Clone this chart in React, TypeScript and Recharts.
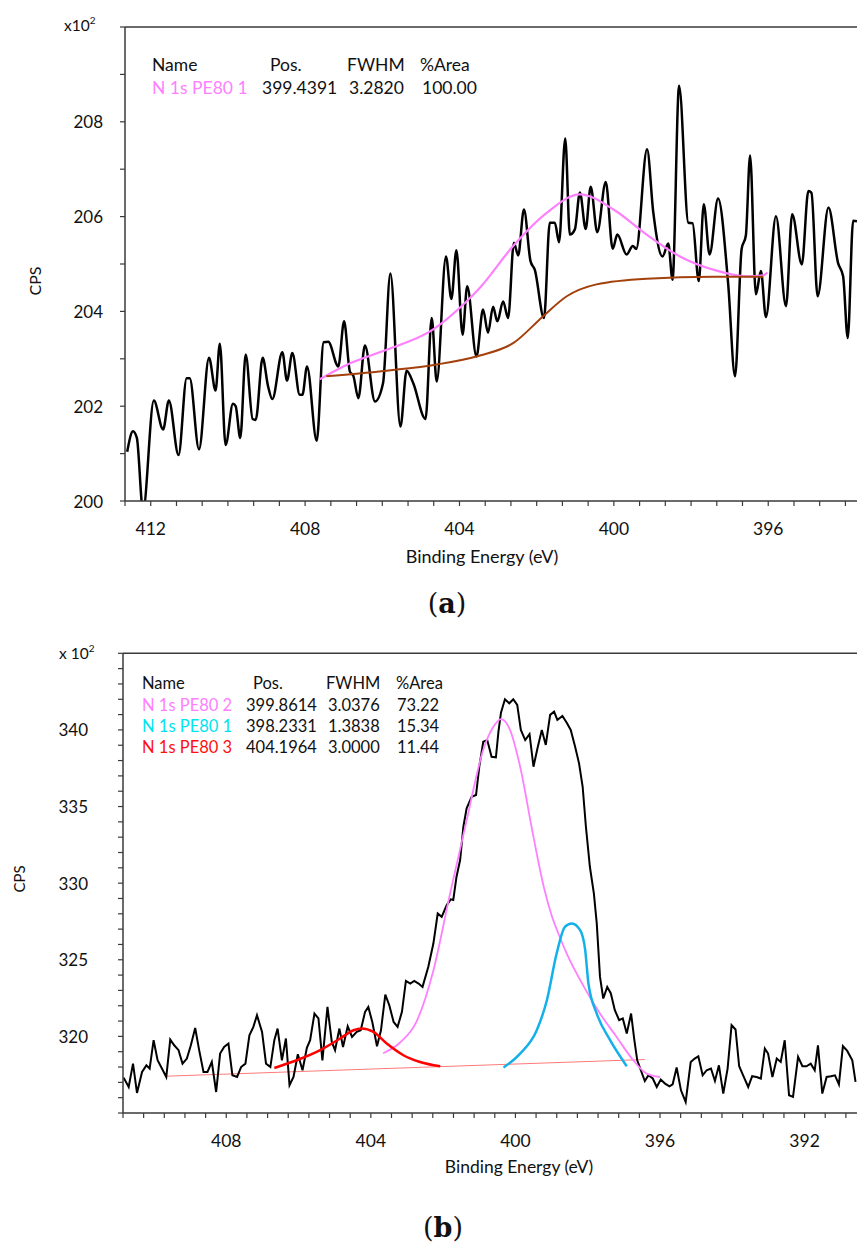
import { LineChart, Line, XAxis, YAxis, ReferenceLine } from 'recharts'

const AXIS = '#3a3a3a'
const INK = '#111'
const FONT = 'Lato, "Open Sans", sans-serif'
const PINK = '#ff80ff'

// ---------- panel (a): N 1s, one component ----------
// [binding energy eV, CPS x10^2], left to right
const A_RAW: [number, number][] = [
  [412.61, 201.04], [412.46, 201.47], [412.36, 201.33], [412.2, 199.8], [411.92, 202.12],
  [411.68, 201.51], [411.53, 202.12], [411.28, 200.97], [411.07, 202.59], [410.99, 202.59],
  [410.75, 201.09], [410.49, 203.02], [410.32, 202.33], [410.21, 203.32], [410.06, 201.18],
  [409.87, 202.05], [409.8, 202.0], [409.68, 201.33], [409.54, 203.09], [409.36, 201.73],
  [409.28, 201.71], [409.1, 203.02], [408.96, 202.42], [408.85, 202.15], [408.59, 203.14],
  [408.47, 202.54], [408.33, 203.12], [408.14, 202.24], [408.07, 202.24], [407.95, 202.84],
  [407.7, 201.27], [407.52, 203.35], [407.4, 203.36], [407.14, 202.84], [406.99, 203.79],
  [406.84, 202.73], [406.75, 202.64], [406.62, 202.17], [406.45, 203.28], [406.19, 202.1],
  [405.98, 202.49], [405.79, 204.8], [405.53, 201.57], [405.37, 202.75], [405.2, 202.49],
  [404.88, 201.73], [404.72, 203.86], [404.59, 202.52], [404.35, 205.16], [404.21, 204.26],
  [404.08, 205.29], [403.92, 203.51], [403.8, 204.53], [403.56, 203.05], [403.39, 204.04],
  [403.26, 203.55], [403.13, 204.1], [403.02, 203.79], [402.87, 204.21], [402.74, 203.86],
  [402.59, 205.45], [402.48, 205.18], [402.33, 206.15], [402.16, 205.06], [402.05, 204.88],
  [401.81, 203.86], [401.66, 205.87], [401.53, 205.87], [401.42, 205.46], [401.26, 207.65],
  [401.14, 205.62], [401.01, 205.73], [400.88, 206.51], [400.73, 205.74], [400.6, 206.63],
  [400.43, 205.67], [400.21, 206.73], [400.03, 205.32], [399.91, 205.62], [399.67, 205.2],
  [399.51, 205.38], [399.42, 205.32], [399.14, 207.42], [398.98, 206.1], [398.74, 205.16],
  [398.59, 205.43], [398.48, 204.67], [398.31, 208.76], [398.07, 205.87], [397.96, 205.86],
  [397.8, 204.64], [397.67, 206.26], [397.52, 205.2], [397.3, 206.38], [397.04, 204.6],
  [396.86, 202.63], [396.69, 205.31], [396.58, 205.6], [396.47, 207.29], [396.32, 204.36],
  [396.19, 204.85], [396.06, 203.88], [395.8, 206.01], [395.54, 204.11], [395.38, 206.05],
  [395.13, 204.99], [394.96, 206.54], [394.88, 206.5], [394.72, 204.32], [394.44, 206.19],
  [394.19, 205.02], [394.06, 204.74], [393.94, 203.44], [393.8, 205.91], [393.7, 205.9],
]
const A_ENVELOPE: [number, number][] = [
  [407.62, 202.57], [406.76, 202.93], [405.89, 203.19], [404.68, 203.62], [403.82, 204.21],
  [403.47, 204.5], [402.61, 205.38], [401.74, 206.08], [400.88, 206.47], [400.01, 206.15],
  [399.15, 205.62], [398.29, 205.16], [397.42, 204.88], [396.56, 204.74], [396.13, 204.76],
  [396.02, 204.82],
]
const A_BACKGROUND: [number, number][] = [
  [407.45, 202.63], [405.89, 202.75], [404.59, 202.88], [403.47, 203.07], [402.61, 203.33],
  [401.83, 203.9], [401.22, 204.32], [400.45, 204.57], [399.15, 204.69], [397.42, 204.73],
  [396.13, 204.73],
]
const A_XTICKS = [
  412.667, 412, 411.333, 410.667, 410, 409.333, 408.667, 408, 407.333, 406.667, 406, 405.333,
  404.667, 404, 403.333, 402.667, 402, 401.333, 400.667, 400, 399.333, 398.667, 398, 397.333,
  396.667, 396, 395.333, 394.667, 394,
]
const A_XLABELS = [412, 408, 404, 400, 396]
const A_YTICKS = [200, 201, 202, 203, 204, 205, 206, 207, 208, 209, 210]
const A_YLABELS = [200, 202, 204, 206, 208]
const A_TABLE_HEAD = ['Name', 'Pos.', 'FWHM', '%Area']
const A_TABLE_ROW = ['N 1s PE80 1', '399.4391', '3.2820', '100.00']

// ---------- panel (b): N 1s, three components ----------
const B_RAW: [number, number][] = [
  [410.84, 317.31], [410.7, 316.7], [410.58, 318.22], [410.47, 316.31], [410.33, 317.68],
  [410.21, 318.11], [410.12, 317.9], [410.01, 319.75], [409.9, 318.44], [409.78, 317.9],
  [409.66, 317.35], [409.55, 319.79], [409.44, 319.42], [409.32, 319.1], [409.21, 318.22],
  [409.09, 318.55], [408.98, 319.42], [408.86, 320.55], [408.75, 319.1], [408.63, 317.68],
  [408.52, 317.68], [408.4, 318.33], [408.28, 316.37], [408.17, 318.88], [408.06, 319.31],
  [407.94, 319.53], [407.83, 317.46], [407.7, 317.35], [407.59, 318.0], [407.47, 318.22],
  [407.36, 320.07], [407.25, 320.62], [407.15, 321.38], [407.01, 320.29], [406.9, 318.22],
  [406.78, 318.0], [406.67, 319.75], [406.58, 320.51], [406.46, 318.44], [406.35, 319.86],
  [406.25, 316.81], [406.14, 317.35], [406.02, 318.83], [405.89, 317.79], [405.77, 319.25],
  [405.68, 319.75], [405.56, 321.49], [405.45, 321.17], [405.34, 318.44], [405.2, 321.92],
  [405.08, 319.64], [404.99, 319.1], [404.87, 320.51], [404.77, 319.31], [404.64, 320.66],
  [404.52, 319.96], [404.39, 320.29], [404.28, 320.4], [404.16, 321.6], [404.07, 321.92],
  [403.96, 320.94], [403.83, 319.36], [403.72, 320.4], [403.6, 322.73], [403.49, 322.03],
  [403.37, 320.94], [403.26, 320.62], [403.14, 321.6], [403.03, 323.62], [402.91, 323.45],
  [402.8, 323.62], [402.68, 323.45], [402.57, 323.23], [402.41, 324.54], [402.27, 326.06],
  [402.15, 328.02], [402.04, 327.8], [401.9, 328.57], [401.79, 328.94], [401.72, 328.9],
  [401.63, 330.42], [401.53, 331.51], [401.44, 333.68], [401.35, 334.88], [401.21, 335.64],
  [401.09, 335.75], [401.0, 337.6], [400.89, 339.23], [400.78, 339.34], [400.66, 338.25],
  [400.54, 338.21], [400.47, 339.89], [400.4, 341.13], [400.29, 342.0], [400.17, 341.74],
  [400.06, 342.0], [399.95, 341.63], [399.85, 340.0], [399.73, 339.34], [399.61, 339.73],
  [399.5, 337.6], [399.39, 338.8], [399.27, 340.0], [399.16, 339.02], [399.04, 340.98],
  [398.93, 341.19], [398.84, 340.65], [398.7, 340.91], [398.58, 340.47], [398.47, 340.0],
  [398.35, 338.91], [398.24, 337.82], [398.14, 336.29], [398.05, 333.68], [397.94, 331.07],
  [397.83, 329.33], [397.75, 327.37], [397.66, 323.88], [397.57, 322.47], [397.46, 323.23],
  [397.36, 322.8], [397.25, 321.71], [397.13, 321.06], [397.03, 321.17], [396.92, 320.19],
  [396.8, 321.49], [396.71, 319.75], [396.63, 318.44], [396.53, 317.79], [396.42, 317.09],
  [396.32, 317.46], [396.2, 317.25], [396.09, 316.7], [395.98, 317.18], [395.86, 316.92],
  [395.74, 316.74], [395.65, 316.87], [395.54, 317.97], [395.42, 316.48], [395.29, 315.72],
  [395.15, 318.33], [395.04, 318.55], [394.94, 318.7], [394.82, 317.46], [394.71, 317.79],
  [394.59, 317.9], [394.48, 317.09], [394.37, 318.11], [394.25, 316.27], [394.13, 317.9],
  [394.02, 320.73], [393.91, 320.45], [393.81, 318.05], [393.7, 317.46], [393.56, 316.7],
  [393.45, 317.4], [393.33, 317.35], [393.21, 317.25], [393.1, 319.21], [393.01, 318.88],
  [392.89, 317.35], [392.77, 318.55], [392.66, 318.33], [392.55, 319.75], [392.43, 316.16],
  [392.32, 316.05], [392.18, 318.66], [392.06, 318.05], [391.95, 318.05], [391.83, 318.22],
  [391.72, 317.79], [391.63, 319.42], [391.51, 316.27], [391.39, 317.35], [391.27, 317.4],
  [391.16, 317.46], [391.05, 316.87], [390.94, 319.36], [390.82, 319.05], [390.68, 318.44],
  [390.59, 317.03],
]
const B_PEAK2: [number, number][] = [
  [403.66, 318.9], [403.19, 319.6], [402.73, 321.0], [402.27, 324.3], [401.81, 329.3],
  [401.35, 334.1], [400.89, 338.7], [400.61, 340.2], [400.4, 340.7], [400.15, 340.0],
  [399.87, 337.6], [399.5, 333.0], [399.2, 329.6], [399.0, 327.9], [398.81, 326.7],
  [398.58, 325.4], [398.12, 323.3], [397.66, 321.49], [397.2, 319.96], [396.74, 318.44],
  [396.37, 317.57], [396.0, 317.35],
]
const B_PEAK1: [number, number][] = [
  [400.33, 317.97], [399.87, 318.88], [399.41, 320.4], [399.13, 322.36], [398.86, 325.41],
  [398.63, 327.15], [398.44, 327.37], [398.21, 326.93], [398.07, 325.63], [397.98, 323.45],
  [397.75, 321.49], [397.38, 319.75], [396.92, 318.05],
]
const B_PEAK3: [number, number][] = [
  [406.67, 317.94], [406.05, 318.44], [405.4, 319.1], [404.85, 319.86], [404.48, 320.4],
  [404.25, 320.51], [403.93, 320.29], [403.56, 319.53], [403.1, 318.77], [402.64, 318.33],
  [402.08, 318.05],
]
const B_BASELINE: [number, number][] = [[409.69, 317.4], [396.42, 318.49]]
const B_XTICKS = [
  410.857, 410.286, 409.714, 409.143, 408.571, 408, 407.429, 406.857, 406.286, 405.714,
  405.143, 404.571, 404, 403.429, 402.857, 402.286, 401.714, 401.143, 400.571, 400, 399.429,
  398.857, 398.286, 397.714, 397.143, 396.571, 396, 395.429, 394.857, 394.286, 393.714,
  393.143, 392.571, 392, 391.429, 390.857,
]
const B_XLABELS = [408, 404, 400, 396, 392]
const B_YTICKS = [
  315, 316, 317, 318, 319, 320, 321, 322, 323, 324, 325, 326, 327, 328, 329, 330,
  331, 332, 333, 334, 335, 336, 337, 338, 339, 340, 341, 342, 343, 344, 345,
]
const B_YLABELS = [320, 325, 330, 335, 340]
const B_TABLE_HEAD = ['Name', 'Pos.', 'FWHM', '%Area']
const B_TABLE_ROWS = [
  { name: 'N 1s PE80 2', pos: '399.8614', fwhm: '3.0376', area: '73.22', color: PINK },
  { name: 'N 1s PE80 1', pos: '398.2331', fwhm: '1.3838', area: '15.34', color: '#00e4f0' },
  { name: 'N 1s PE80 3', pos: '404.1964', fwhm: '3.0000', area: '11.44', color: '#ff1010' },
]

const pts = (arr: [number, number][]) => arr.map(([x, y]) => ({ x, y }))
const isLabel = (v: number, list: number[]) => list.some((l) => Math.abs(l - v) < 0.01)

function XTick({ x, y, payload, labels }: any) {
  if (!isLabel(payload.value, labels)) return <g />
  return (
    <text x={x} y={y + 29} textAnchor="middle" fontSize={17.5} fill={INK} fontFamily={FONT}>
      {Math.round(payload.value)}
    </text>
  )
}

function YTick({ x, y, payload, labels }: any) {
  if (!isLabel(payload.value, labels)) return <g />
  return (
    <text x={x} y={y + 6.5} textAnchor="end" fontSize={17} fill={INK} fontFamily={FONT}>
      {Math.round(payload.value)}
    </text>
  )
}

// one XPS panel: reversed energy axis, ticks outside, closed on top
function Spectrum({ width, height, top, xAxisH, yAxisW, yMargin, xDomain, yDomain, xTicks, xLabels, yTicks, yLabels, children }: any) {
  return (
    <LineChart width={width} height={height} margin={{ top, right: 0, bottom: 0, left: 0 }}>
      <XAxis type="number" dataKey="x" domain={xDomain} reversed allowDataOverflow
        ticks={xTicks} interval={0} tickSize={5} tickMargin={0} height={xAxisH}
        axisLine={{ stroke: AXIS, strokeWidth: 1.5 }} tickLine={{ stroke: AXIS, strokeWidth: 1.2 }}
        tick={(p: any) => <XTick {...p} labels={xLabels} />} />
      <YAxis type="number" dataKey="y" domain={yDomain} allowDataOverflow
        ticks={yTicks} interval={0} tickSize={5} tickMargin={yMargin} width={yAxisW}
        axisLine={{ stroke: AXIS, strokeWidth: 1.5 }} tickLine={{ stroke: AXIS, strokeWidth: 1.2 }}
        tick={(p: any) => <YTick {...p} labels={yLabels} />} />
      <ReferenceLine y={yDomain[1]} stroke={AXIS} strokeWidth={1.5} />
      {children}
    </LineChart>
  )
}

export default function App() {
  return (
    <div style={{ position: 'absolute', left: 0, top: 0, width: 857, height: 1243, background: '#fff', fontFamily: FONT }}>
      {/* (a) plot area: x 125..857, y 27..501 */}
      <div style={{ position: 'absolute', left: 0, top: 0 }}>
        <Spectrum width={857} height={581} top={27} xAxisH={80} yAxisW={125} yMargin={17}
          xDomain={[393.7, 412.667]} yDomain={[200, 210]}
          xTicks={A_XTICKS} xLabels={A_XLABELS} yTicks={A_YTICKS} yLabels={A_YLABELS}>
          <Line data={pts(A_RAW)} dataKey="y" type="monotone" stroke="#000" strokeWidth={2.5} dot={false} isAnimationActive={false} />
          <Line data={pts(A_ENVELOPE)} dataKey="y" type="monotone" stroke={PINK} strokeWidth={2.2} dot={false} isAnimationActive={false} />
          <Line data={pts(A_BACKGROUND)} dataKey="y" type="monotone" stroke="#a3400c" strokeWidth={2} dot={false} isAnimationActive={false} />
        </Spectrum>
      </div>
      <svg width={857} height={640} style={{ position: 'absolute', left: 0, top: 0 }} fontFamily={FONT} fill={INK}>
        <text x={64} y={31} fontSize={15.5}>x10<tspan dy={-7} fontSize={10}>2</tspan></text>
        <text transform="translate(41,281) rotate(-90)" textAnchor="middle" fontSize={16}>CPS</text>
        <text x={482} y={563} textAnchor="middle" fontSize={18}>Binding Energy (eV)</text>
        <g fontSize={17.5}>
          {A_TABLE_HEAD.map((t, i) => (
            <text key={t} x={[152, 270, 347, 420][i]} y={70.5}>{t}</text>
          ))}
          {A_TABLE_ROW.map((t, i) => (
            <text key={t} x={[152, 262, 349, 422][i]} y={94} fill={i === 0 ? PINK : INK}>{t}</text>
          ))}
        </g>
        <text x={447} y={613} textAnchor="middle" fontSize={27} fontFamily='"DejaVu Serif", serif'>
          (<tspan fontWeight="bold">a</tspan>)
        </text>
      </svg>

      {/* (b) plot area: x 123..857, y 653..1113 */}
      <div style={{ position: 'absolute', left: 0, top: 600 }}>
        <Spectrum width={857} height={593} top={53.3} xAxisH={80} yAxisW={123} yMargin={30}
          xDomain={[390.55, 410.857]} yDomain={[315, 345]}
          xTicks={B_XTICKS} xLabels={B_XLABELS} yTicks={B_YTICKS} yLabels={B_YLABELS}>
          <Line data={pts(B_BASELINE)} dataKey="y" type="linear" stroke="#ff7a7a" strokeWidth={1} dot={false} isAnimationActive={false} />
          <Line data={pts(B_RAW)} dataKey="y" type="linear" stroke="#000" strokeWidth={2} dot={false} isAnimationActive={false} />
          <Line data={pts(B_PEAK2)} dataKey="y" type="monotone" stroke={PINK} strokeWidth={1.8} dot={false} isAnimationActive={false} />
          <Line data={pts(B_PEAK1)} dataKey="y" type="monotone" stroke="#14b0ea" strokeWidth={2.5} dot={false} isAnimationActive={false} />
          <Line data={pts(B_PEAK3)} dataKey="y" type="monotone" stroke="#f00" strokeWidth={2.5} dot={false} isAnimationActive={false} />
        </Spectrum>
      </div>
      <svg width={857} height={643} style={{ position: 'absolute', left: 0, top: 600 }} fontFamily={FONT} fill={INK}>
        <text x={59} y={59} fontSize={15.5}>x 10<tspan dy={-7} fontSize={10}>2</tspan></text>
        <text transform="translate(25,279) rotate(-90)" textAnchor="middle" fontSize={15}>CPS</text>
        <text x={519} y={573} textAnchor="middle" fontSize={17.5}>Binding Energy (eV)</text>
        <g fontSize={16.5}>
          {B_TABLE_HEAD.map((t, i) => (
            <text key={t} x={[142, 253, 326, 396][i]} y={89.3}>{t}</text>
          ))}
          {B_TABLE_ROWS.map((r, i) => (
            <g key={r.name}>
              <text x={142} y={110.7 + i * 21.3} fill={r.color}>{r.name}</text>
              <text x={246} y={110.7 + i * 21.3}>{r.pos}</text>
              <text x={328} y={110.7 + i * 21.3}>{r.fwhm}</text>
              <text x={397} y={110.7 + i * 21.3}>{r.area}</text>
            </g>
          ))}
        </g>
        <text x={443} y={637} textAnchor="middle" fontSize={27} fontFamily='"DejaVu Serif", serif'>
          (<tspan fontWeight="bold">b</tspan>)
        </text>
      </svg>
    </div>
  )
}
